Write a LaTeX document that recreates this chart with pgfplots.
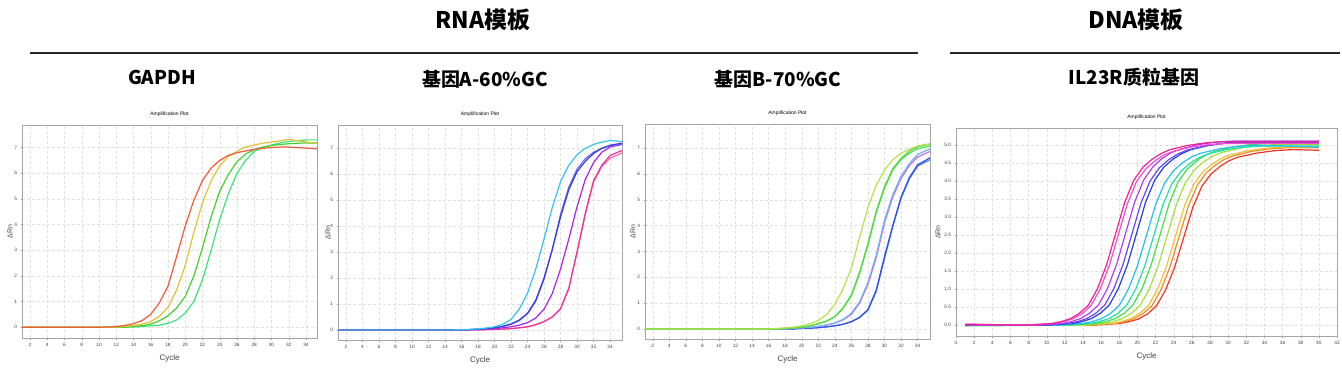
\documentclass[border=0pt]{standalone}
\usepackage{pgfplots}
\pgfplotsset{compat=1.18}
\usepackage{fontspec}
\setmainfont{Liberation Sans}
\newfontfamily\cjk{Noto Sans CJK SC}
\definecolor{c1red}{HTML}{F05A3A}
\definecolor{c1yel}{HTML}{E2C234}
\definecolor{c1grn}{HTML}{44D02C}
\definecolor{c1lgr}{HTML}{3CE27A}
\definecolor{c2cya}{HTML}{34C4EA}
\definecolor{c2blu}{HTML}{3C3CE0}
\definecolor{c2bl2}{HTML}{6A6AE8}
\definecolor{c2pur}{HTML}{A826E6}
\definecolor{c2pnk}{HTML}{F03494}
\definecolor{c2pk2}{HTML}{F46AB8}
\definecolor{c3yg}{HTML}{B4E24A}
\definecolor{c3g1}{HTML}{5CD83C}
\definecolor{c3g2}{HTML}{3CE25C}
\definecolor{c3lb}{HTML}{74B2F2}
\definecolor{c3mg}{HTML}{C470E4}
\definecolor{c3b1}{HTML}{3050E6}
\definecolor{c3b2}{HTML}{4C80F0}
\definecolor{c4m}{HTML}{F0209A}
\definecolor{c4pk}{HTML}{F050C8}
\definecolor{c4pu}{HTML}{B040F0}
\definecolor{c4v}{HTML}{6A44F0}
\definecolor{c4b}{HTML}{2240E0}
\definecolor{c4c}{HTML}{22C0F0}
\definecolor{c4t}{HTML}{22E0A2}
\definecolor{c4g}{HTML}{44E044}
\definecolor{c4yg}{HTML}{A4E040}
\definecolor{c4y}{HTML}{F0C232}
\definecolor{c4o}{HTML}{F08A32}
\definecolor{c4r}{HTML}{F03422}
\pgfplotsset{
  amp/.style={
    scale only axis, anchor=south west,
    axis line style={draw=black!35},
    grid=major,
    major grid style={densely dashed, draw=black!12, line width=0.35pt},
    tick style={draw=black!40},
    xtick pos=bottom, ytick pos=left,
    major tick length=1.5bp,
    tick align=outside,
    ticklabel style={font=\fontsize{4.8}{5}\selectfont, text=black!75},
    /pgf/number format/assume math mode=true,
    title={Amplification Plot},
    title style={font=\fontsize{5}{6}\selectfont, yshift=-1bp},
    xlabel={Cycle},
    xlabel style={font=\fontsize{8}{9}\selectfont, text=black!75, yshift=-1bp},
    ylabel={ΔRn},
    ylabel style={font=\fontsize{7}{8}\selectfont, text=black!75, at={(axis description cs:0,0.5)}, anchor=center},
    every axis plot/.append style={line width=1.2bp, no markers},
  },
}
\begin{document}
\begin{tikzpicture}
\path[use as bounding box] (0bp,0bp) rectangle (1342bp,374bp);
% headers
\node[font=\cjk\bfseries\fontsize{23}{26}\selectfont] at (483bp,354bp) {RNA模板};
\node[font=\cjk\bfseries\fontsize{23}{26}\selectfont] at (1136bp,354bp) {DNA模板};
\draw[line width=1.5bp, black!85] (30bp,321bp) -- (918bp,321bp);
\draw[line width=1.5bp, black!85] (950bp,321bp) -- (1340bp,321bp);
\node[font=\cjk\bfseries\fontsize{19}{22}\selectfont] at (162bp,297bp) {GAPDH};
\node[font=\cjk\bfseries\fontsize{19}{22}\selectfont] at (485bp,295bp) {基因A-60\%GC};
\node[font=\cjk\bfseries\fontsize{19}{22}\selectfont] at (778bp,295bp) {基因B-70\%GC};
\node[font=\cjk\bfseries\fontsize{19}{22}\selectfont] at (1134bp,297bp) {IL23R质粒基因};

% Panel 1: GAPDH
\begin{axis}[amp, at={(22bp,36bp)}, width=295bp, height=213bp,
  xmin=1.07, xmax=35.28, ymin=-0.42, ymax=7.88,
  xtick={2,4,...,34}, ytick={0,1,...,7},
  ylabel style={yshift=12bp}]
\addplot[c1lgr] coordinates {(1,0)(13,0)(14,0.01)(15,0.03)(16,0.05)(17,0.08)(18,0.15)(19,0.28)(20,0.55)(21,1.0)(22,1.85)(23,3.0)(24,4.2)(25,5.2)(26,6.0)(27,6.5)(28,6.85)(29,7.0)(30,7.1)(31,7.18)(32,7.24)(33,7.27)(34,7.3)(35.3,7.3)};
\addplot[c1grn] coordinates {(1,0)(12,0)(13,0.01)(14,0.03)(15,0.06)(16,0.12)(17,0.25)(18,0.45)(19,0.75)(20,1.2)(21,2.0)(22,3.1)(23,4.3)(24,5.3)(25,5.95)(26,6.45)(27,6.75)(28,6.92)(29,7.02)(30,7.08)(31,7.12)(32,7.15)(33,7.17)(34,7.18)(35.3,7.18)};
\addplot[c1yel] coordinates {(1,0)(11,0)(12,0.01)(13,0.03)(14,0.07)(15,0.12)(16,0.22)(17,0.42)(18,0.78)(19,1.45)(20,2.4)(21,3.7)(22,4.85)(23,5.7)(24,6.3)(25,6.65)(26,6.85)(27,7.02)(28,7.1)(29,7.17)(30,7.22)(31,7.26)(32,7.32)(33,7.27)(34,7.22)(35.3,7.16)};
\addplot[c1red] coordinates {(1,0)(10,0)(11,0.01)(12,0.03)(13,0.07)(14,0.14)(15,0.26)(16,0.5)(17,0.95)(18,1.6)(19,2.75)(20,3.95)(21,4.95)(22,5.72)(23,6.2)(24,6.5)(25,6.7)(26,6.8)(27,6.87)(28,6.93)(29,6.97)(30,7.0)(31,7.02)(32,7.02)(33,7.0)(34,6.98)(35.3,6.95)};
\end{axis}

% Panel 2: Gene A
\begin{axis}[amp, at={(338bp,34bp)}, width=284bp, height=215bp,
  xmin=1.03, xmax=35.45, ymin=-0.39, ymax=7.9,
  xtick={2,4,...,34}, ytick={0,1,...,7},
  ylabel style={yshift=10bp}]
\addplot[c2pk2] coordinates {(1,0)(18,0)(19,0.01)(20,0.02)(21,0.03)(22,0.05)(23,0.08)(24,0.12)(25,0.2)(26,0.32)(27,0.5)(28,0.82)(29,1.6)(30,3.0)(31,4.45)(32,5.7)(33,6.3)(34,6.62)(35.45,6.82)};
\addplot[c2pnk] coordinates {(1,0)(18,0)(19,0.01)(20,0.02)(21,0.03)(22,0.05)(23,0.08)(24,0.12)(25,0.2)(26,0.32)(27,0.5)(28,0.82)(29,1.6)(30,3.0)(31,4.5)(32,5.75)(33,6.35)(34,6.72)(35.45,6.92)};
\addplot[c2pur] coordinates {(1,0)(17,0)(18,0.01)(19,0.03)(20,0.05)(21,0.08)(22,0.12)(23,0.18)(24,0.28)(25,0.46)(26,0.8)(27,1.4)(28,2.35)(29,3.5)(30,4.75)(31,5.8)(32,6.45)(33,6.85)(34,7.05)(35.45,7.15)};
\addplot[c2bl2] coordinates {(1,0)(16,0)(17,0.01)(18,0.03)(19,0.05)(20,0.08)(21,0.13)(22,0.21)(23,0.36)(24,0.62)(25,1.1)(26,1.95)(27,3.1)(28,4.45)(29,5.5)(30,6.2)(31,6.6)(32,6.85)(33,7.0)(34,7.1)(35.45,7.15)};
\addplot[c2blu] coordinates {(1,0)(16,0)(17,0.01)(18,0.03)(19,0.05)(20,0.08)(21,0.14)(22,0.23)(23,0.38)(24,0.64)(25,1.15)(26,2.0)(27,3.1)(28,4.35)(29,5.4)(30,6.1)(31,6.5)(32,6.8)(33,7.0)(34,7.12)(35.45,7.2)};
\addplot[c2cya] coordinates {(1,0)(15,0)(16,0.01)(17,0.02)(18,0.04)(19,0.07)(20,0.12)(21,0.22)(22,0.4)(23,0.8)(24,1.42)(25,2.35)(26,3.5)(27,4.72)(28,5.72)(29,6.35)(30,6.75)(31,7.0)(32,7.15)(33,7.24)(34,7.3)(35,7.28)(35.45,7.26)};
\end{axis}

% Panel 3: Gene B
\begin{axis}[amp, at={(645bp,35bp)}, width=285bp, height=215bp,
  xmin=1.07, xmax=35.5, ymin=-0.39, ymax=7.93,
  xtick={2,4,...,34}, ytick={0,1,...,7},
  ylabel style={yshift=12bp}]
\addplot[c3b2] coordinates {(1,0)(19,0)(20,0.02)(21,0.03)(22,0.05)(23,0.08)(24,0.12)(25,0.18)(26,0.28)(27,0.44)(28,0.72)(29,1.45)(30,2.72)(31,3.95)(32,5.05)(33,5.8)(34,6.3)(35.5,6.55)};
\addplot[c3b1] coordinates {(1,0)(19,0)(20,0.02)(21,0.03)(22,0.05)(23,0.08)(24,0.12)(25,0.18)(26,0.28)(27,0.45)(28,0.75)(29,1.5)(30,2.8)(31,4.0)(32,5.1)(33,5.85)(34,6.35)(35.5,6.62)};
\addplot[c3mg] coordinates {(1,0)(18,0)(19,0.02)(20,0.04)(21,0.06)(22,0.1)(23,0.15)(24,0.22)(25,0.35)(26,0.56)(27,1.0)(28,1.72)(29,2.75)(30,4.1)(31,5.1)(32,5.82)(33,6.32)(34,6.65)(35.5,6.87)};
\addplot[c3lb] coordinates {(1,0)(18,0)(19,0.02)(20,0.04)(21,0.06)(22,0.1)(23,0.15)(24,0.23)(25,0.37)(26,0.6)(27,1.05)(28,1.8)(29,2.85)(30,4.2)(31,5.2)(32,5.9)(33,6.4)(34,6.75)(35.5,6.97)};
\addplot[c3g2] coordinates {(1,0)(17,0)(18,0.02)(19,0.04)(20,0.07)(21,0.12)(22,0.2)(23,0.3)(24,0.47)(25,0.8)(26,1.28)(27,2.15)(28,3.25)(29,4.5)(30,5.45)(31,6.15)(32,6.55)(33,6.8)(34,6.97)(35.5,7.08)};
\addplot[c3g1] coordinates {(1,0)(17,0)(18,0.02)(19,0.04)(20,0.07)(21,0.12)(22,0.2)(23,0.3)(24,0.48)(25,0.82)(26,1.32)(27,2.2)(28,3.3)(29,4.55)(30,5.5)(31,6.2)(32,6.6)(33,6.88)(34,7.05)(35.5,7.15)};
\addplot[c3yg] coordinates {(1,0)(16,0)(17,0.02)(18,0.04)(19,0.07)(20,0.12)(21,0.2)(22,0.33)(23,0.55)(24,0.95)(25,1.55)(26,2.35)(27,3.55)(28,4.7)(29,5.55)(30,6.15)(31,6.55)(32,6.8)(33,6.95)(34,7.08)(35.5,7.17)};
\end{axis}

% Panel 4: IL23R plasmid
\begin{axis}[amp, at={(956bp,38bp)}, width=381bp, height=208bp,
  xmin=0, xmax=42, ymin=-0.3, ymax=5.48,
  xtick={0,2,...,42}, ytick={0,0.5,...,5},
  yticklabel style={/pgf/number format/.cd, fixed, fixed zerofill, precision=1},
  ylabel style={yshift=18bp}]
\addplot[c4r] coordinates {(1,0.02)(15.1,0)(18.1,0.05)(19.1,0.1)(20.1,0.17)(21.1,0.31)(22.1,0.54)(23.1,0.98)(24.1,1.61)(25.1,2.44)(26.1,3.27)(27.1,3.86)(28.1,4.2)(29.1,4.41)(30.1,4.57)(31.1,4.67)(33.1,4.78)(35.1,4.85)(37.1,4.88)(40,4.86)};
\addplot[c4o] coordinates {(1,0)(14.6,0)(17.6,0.05)(18.6,0.1)(19.6,0.18)(20.6,0.32)(21.6,0.54)(22.6,0.99)(23.6,1.63)(24.6,2.47)(25.6,3.3)(26.6,3.89)(27.6,4.24)(28.6,4.45)(29.6,4.61)(30.6,4.71)(32.6,4.83)(34.6,4.9)(36.6,4.93)(40,4.93)};
\addplot[c4y] coordinates {(1,0)(14.2,0)(17.2,0.05)(18.2,0.1)(19.2,0.18)(20.2,0.32)(21.2,0.54)(22.2,0.99)(23.2,1.63)(24.2,2.48)(25.2,3.32)(26.2,3.91)(27.2,4.26)(28.2,4.47)(29.2,4.63)(30.2,4.73)(32.2,4.85)(34.2,4.92)(36.2,4.95)(40,4.96)};
\addplot[c4yg] coordinates {(1,0)(13.3,0)(16.3,0.05)(17.3,0.1)(18.3,0.18)(19.3,0.32)(20.3,0.55)(21.3,1.0)(22.3,1.66)(23.3,2.51)(24.3,3.36)(25.3,3.97)(26.3,4.32)(27.3,4.54)(28.3,4.7)(29.3,4.8)(31.3,4.92)(33.3,4.99)(35.3,5.02)(40,5.02)};
\addplot[c4g] coordinates {(1,-0.02)(12.5,0)(15.5,0.05)(16.5,0.1)(17.5,0.18)(18.5,0.32)(19.5,0.56)(20.5,1.01)(21.5,1.67)(22.5,2.52)(23.5,3.38)(24.5,3.99)(25.5,4.34)(26.5,4.56)(27.5,4.73)(28.5,4.83)(30.5,4.95)(32.5,5.02)(34.5,5.05)(40,5.05)};
\addplot[c4t] coordinates {(1,0)(11.8,0)(14.8,0.05)(15.8,0.1)(16.8,0.18)(17.8,0.32)(18.8,0.55)(19.8,1.0)(20.8,1.64)(21.8,2.49)(22.8,3.34)(23.8,3.93)(24.8,4.28)(25.8,4.5)(26.8,4.66)(27.8,4.76)(29.8,4.88)(31.8,4.95)(33.8,4.98)(40,4.98)};
\addplot[c4c] coordinates {(1,0)(11,0)(14,0.05)(15,0.1)(16,0.18)(17,0.32)(18,0.55)(19,1.0)(20,1.65)(21,2.5)(22,3.35)(23,3.95)(24,4.3)(25,4.52)(26,4.68)(27,4.78)(29,4.9)(31,4.97)(33,5.0)(40,4.95)};
\addplot[c4b] coordinates {(1,0)(9.9,0)(12.9,0.05)(13.9,0.1)(14.9,0.18)(15.9,0.33)(16.9,0.56)(17.9,1.02)(18.9,1.68)(19.9,2.55)(20.9,3.42)(21.9,4.03)(22.9,4.39)(23.9,4.61)(24.9,4.77)(25.9,4.88)(27.9,5.0)(29.9,5.07)(31.9,5.1)(40,5.1)};
\addplot[c4v] coordinates {(1,0)(9.4,0)(12.4,0.05)(13.4,0.1)(14.4,0.18)(15.4,0.33)(16.4,0.56)(17.4,1.02)(18.4,1.68)(19.4,2.54)(20.4,3.4)(21.4,4.01)(22.4,4.37)(23.4,4.59)(24.4,4.75)(25.4,4.86)(27.4,4.98)(29.4,5.05)(31.4,5.08)(40,5.08)};
\addplot[c4pu] coordinates {(1,0.01)(8.7,0)(11.7,0.05)(12.7,0.1)(13.7,0.18)(14.7,0.33)(15.7,0.56)(16.7,1.02)(17.7,1.69)(18.7,2.56)(19.7,3.43)(20.7,4.04)(21.7,4.4)(22.7,4.63)(23.7,4.79)(24.7,4.89)(26.7,5.02)(28.7,5.09)(30.7,5.12)(40,5.12)};
\addplot[c4pk] coordinates {(1,0.02)(7.9,0)(10.9,0.05)(11.9,0.1)(12.9,0.18)(13.9,0.32)(14.9,0.55)(15.9,1.01)(16.9,1.66)(17.9,2.52)(18.9,3.38)(19.9,3.99)(20.9,4.34)(21.9,4.56)(22.9,4.73)(23.9,4.83)(25.9,4.95)(27.9,5.02)(29.9,5.05)(40,5.05)};
\addplot[c4m] coordinates {(1,0.03)(7.6,0)(10.6,0.05)(11.6,0.1)(12.6,0.18)(13.6,0.33)(14.6,0.56)(15.6,1.02)(16.6,1.68)(17.6,2.55)(18.6,3.42)(19.6,4.03)(20.6,4.39)(21.6,4.61)(22.6,4.77)(23.6,4.88)(25.6,5.0)(27.6,5.07)(29.6,5.1)(40,5.1)};
\end{axis}
\end{tikzpicture}
\end{document}
